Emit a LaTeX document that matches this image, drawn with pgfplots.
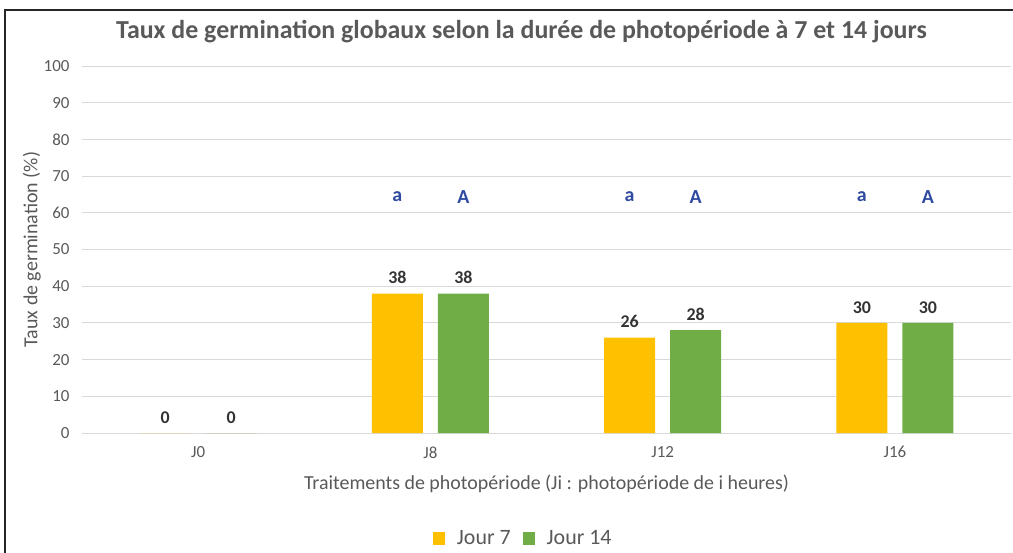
\documentclass[border=0pt]{standalone}
\usepackage{pgfplots}
\pgfplotsset{compat=1.18}
\usepackage{fontspec}
\setmainfont{Carlito}
\definecolor{jaune}{HTML}{FFC000}
\definecolor{vert}{HTML}{70AD47}
\definecolor{txt}{HTML}{595959}
\definecolor{grille}{HTML}{D9D9D9}
\definecolor{bleu}{HTML}{2F4BA0}
\begin{document}
\begin{tikzpicture}
\useasboundingbox (0,0) rectangle (1013bp,553bp);
\draw[line width=2.5bp, color=black!85] (5bp,0) -- (5bp,543bp) -- (1013bp,543bp);
\begin{axis}[
  at={(82bp,120bp)}, anchor=south west,
  scale only axis, width=929bp, height=367bp,
  ybar=15bp, bar width=51bp,
  xmin=-0.5, xmax=3.5, ymin=0, ymax=100,
  xtick=data, xticklabels={J0,J8,J12,J16},
  ytick={0,10,...,100},
  /pgf/number format/assume math mode=true,
  axis line style={draw=none},
  major tick length=0pt,
  ymajorgrids, grid style={grille, line width=0.8bp},
  tick label style={font=\fontsize{17}{19}\selectfont, text=txt},
  yticklabel style={xshift=-9bp},
  xticklabel style={yshift=-10bp},
  xlabel={Traitements de photopériode (Ji : photopériode de i heures)},
  ylabel={Taux de germination (\%)},
  label style={font=\fontsize{20}{22}\selectfont, text=txt},
  xlabel style={at={(0.5,-0.139)}, anchor=center},
  ylabel style={at={(-0.054,0.5)}, anchor=center},
  title={\textbf{Taux de germination globaux selon la durée de photopériode à 7 et 14 jours}},
  title style={font=\fontsize{26}{30}\selectfont, text=txt, at={(0.473,1.077)}, anchor=center},
  nodes near coords,
  every node near coord/.append style={font=\fontsize{18}{20}\selectfont\bfseries, text=black!80, anchor=south, yshift=6bp},
  legend columns=2,
  legend style={at={(0.475,-0.286)}, anchor=center, draw=none, font=\fontsize{22}{24}\selectfont, text=txt, column sep=10bp},
  legend image code/.code={\fill[#1] (0bp,-7bp) rectangle (12bp,6bp);},
  clip=false,
]
\addplot[fill=jaune, draw=none] coordinates {(0,0) (1,38) (2,26) (3,30)};
\addplot[fill=vert, draw=none] coordinates {(0,0) (1,38) (2,28) (3,30)};
\legend{Jour 7, Jour 14}
\node[font=\fontsize{20}{22}\selectfont\bfseries, text=bleu, xshift=-33bp] at (axis cs:1,64.3) {a};
\node[font=\fontsize{20}{22}\selectfont\bfseries, text=bleu, xshift=33bp] at (axis cs:1,64.3) {A};
\node[font=\fontsize{20}{22}\selectfont\bfseries, text=bleu, xshift=-33bp] at (axis cs:2,64.3) {a};
\node[font=\fontsize{20}{22}\selectfont\bfseries, text=bleu, xshift=33bp] at (axis cs:2,64.3) {A};
\node[font=\fontsize{20}{22}\selectfont\bfseries, text=bleu, xshift=-33bp] at (axis cs:3,64.3) {a};
\node[font=\fontsize{20}{22}\selectfont\bfseries, text=bleu, xshift=33bp] at (axis cs:3,64.3) {A};
\end{axis}
\end{tikzpicture}
\end{document}
